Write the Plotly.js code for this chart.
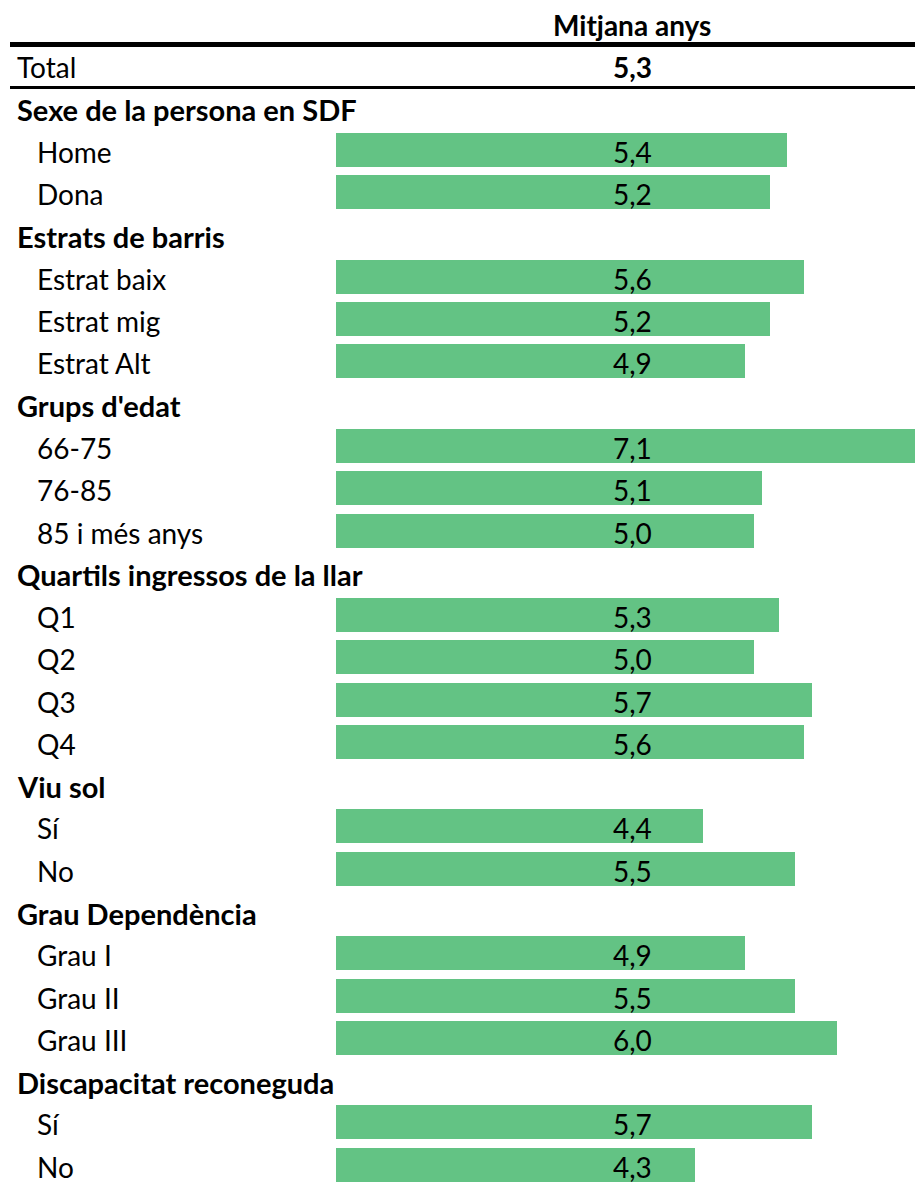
<!DOCTYPE html>
<html>
<head>
<meta charset="utf-8">
<script src="https://cdn.plot.ly/plotly-3.0.1.min.js"></script>
<style>html,body{margin:0;padding:0;background:#fff;}#chart{width:915px;height:1185px;}</style>
</head>
<body>
<div id="chart"></div>
<script>
// ---- data ----
const columnHeader = "Mitjana anys";
const rowLabels = [
  "Total",
  "Sexe de la persona en SDF", "Home", "Dona",
  "Estrats de barris", "Estrat baix", "Estrat mig", "Estrat Alt",
  "Grups d'edat", "66-75", "76-85", "85 i més anys",
  "Quartils ingressos de la llar", "Q1", "Q2", "Q3", "Q4",
  "Viu sol", "Sí", "No",
  "Grau Dependència", "Grau I", "Grau II", "Grau III",
  "Discapacitat reconeguda", "Sí", "No"
];
// "total", "group" (bold heading) or "item" (indented, with bar)
const rowKinds = [
  "total",
  "group", "item", "item",
  "group", "item", "item", "item",
  "group", "item", "item", "item",
  "group", "item", "item", "item", "item",
  "group", "item", "item",
  "group", "item", "item", "item",
  "group", "item", "item"
];
const rowValues = [
  5.3,
  null, 5.4, 5.2,
  null, 5.6, 5.2, 4.9,
  null, 7.1, 5.1, 5.0,
  null, 5.3, 5.0, 5.7, 5.6,
  null, 4.4, 5.5,
  null, 4.9, 5.5, 6.0,
  null, 5.7, 4.3
];

// ---- build ----
const W = 915, H = 1185;
const FONT = "Lato, 'Open Sans', sans-serif";
const rowIdx = rowLabels.map((_, k) => k + 1); // header row is index 0
const fmt = v => v.toFixed(1).replace(".", ",");

const barY = [], barX = [];
rowKinds.forEach((k, j) => { if (k === "item") { barY.push(rowIdx[j]); barX.push(rowValues[j]); } });

const labelCol = 3.547; // value column centre, in value units

const traces = [
  {
    type: "bar", orientation: "h", x: barX, y: barY, base: 0, width: 0.804,
    marker: { color: "#63C384", line: { width: 0 } }, hoverinfo: "skip", showlegend: false
  }
];

const annotations = [{
  xref: "x", yref: "y", x: labelCol, y: 0, text: "<b>" + columnHeader + "</b>",
  showarrow: false, xanchor: "center", yanchor: "middle", yshift: -2,
  font: { family: FONT, size: 28, color: "#000" }
}];
rowLabels.forEach((lab, j) => {
  const k = rowKinds[j];
  annotations.push({
    xref: "paper", yref: "y", x: (k === "item" ? 35 : 15) / W, y: rowIdx[j],
    text: k === "group" ? "<b>" + lab + "</b>" : lab,
    showarrow: false, xanchor: "left", yanchor: "middle", yshift: -2,
    font: { family: FONT, size: k === "group" ? 29 : 28, color: "#000" }
  });
  if (rowValues[j] !== null) {
    annotations.push({
      xref: "x", yref: "y", x: labelCol, y: rowIdx[j],
      text: k === "total" ? "<b>" + fmt(rowValues[j]) + "</b>" : fmt(rowValues[j]),
      showarrow: false, xanchor: "center", yanchor: "middle", yshift: -2,
      font: { family: FONT, size: 28, color: "#000" }
    });
  }
});

const shapes = [
  { type: "line", xref: "paper", yref: "y", x0: 10 / W, x1: 1, y0: 0.505, y1: 0.505, line: { color: "#000", width: 5 } },
  { type: "line", xref: "paper", yref: "y", x0: 10 / W, x1: 1, y0: 1.522, y1: 1.522, line: { color: "#000", width: 3 } }
];

const layout = {
  width: W, height: H, margin: { l: 0, r: 0, t: 0, b: 0, pad: 0 },
  paper_bgcolor: "#fff", plot_bgcolor: "#fff",
  xaxis: { range: [-4.013, 6.931], visible: false, fixedrange: true },
  yaxis: { range: [27.48, -0.548], visible: false, fixedrange: true },
  annotations: annotations, shapes: shapes, showlegend: false, hovermode: false,
  bargap: 0
};

Plotly.newPlot("chart", traces, layout, { displayModeBar: false, staticPlot: true });
</script>
</body>
</html>
